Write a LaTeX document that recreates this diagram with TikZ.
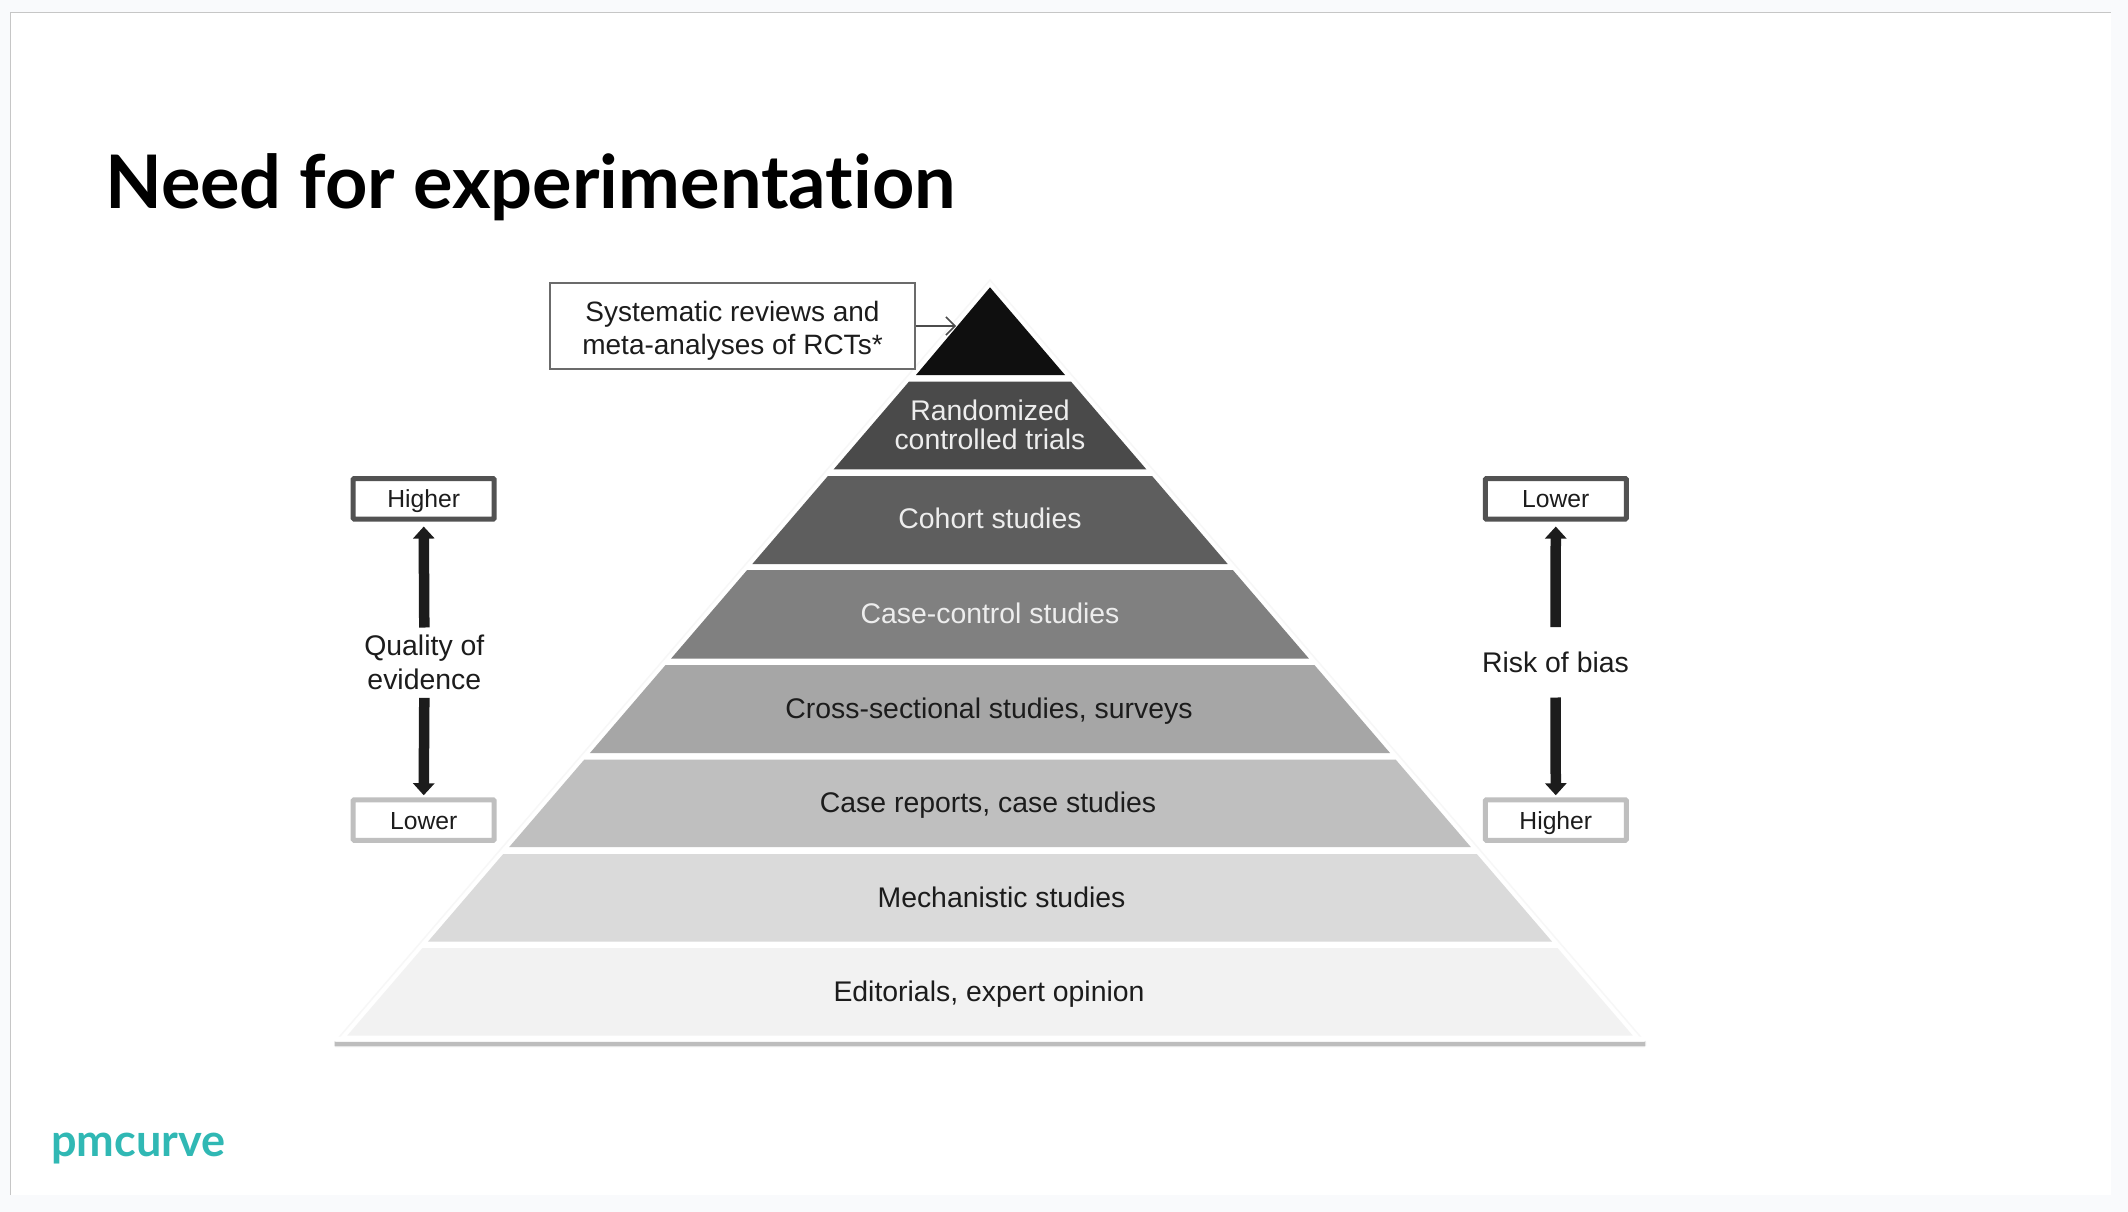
\documentclass[tikz,border=0pt]{standalone}
\usepackage{fontspec}
\setmainfont{Liberation Sans}
\newfontfamily\latofont[Ligatures=NoCommon]{Lato}
\usetikzlibrary{arrows.meta}
\definecolor{pagebg}{HTML}{F9FAFC}
\definecolor{framegray}{HTML}{C6C6C6}
\definecolor{teal}{HTML}{30B8B4}
\definecolor{inkgray}{HTML}{1C1C1C}
\newcommand{\fs}[1]{\fontsize{#1}{#1}\selectfont}
\newcommand{\fsl}[2]{\fontsize{#1}{#2}\selectfont}
\newcommand{\band}[3]{\fill[#3] ({990-0.859*(#1-287.3)},#1) -- ({990+0.859*(#1-287.3)},#1) -- ({990+0.859*(#2-287.3)},#2) -- ({990-0.859*(#2-287.3)},#2) -- cycle;}
\tikzset{
  x=1pt,y=-1pt,
  tierdark/.style={text=white!93!black,font=\fs{28.4},align=center,inner sep=0pt},
  tierlight/.style={text=inkgray,font=\fs{28.4},align=center,inner sep=0pt},
  endbox/.style={draw,fill=white,line width=5pt,rounded corners=1pt,minimum width=141pt,minimum height=40.5pt,inner sep=0pt,text=inkgray,font=\fs{24.7},text height=20.5pt,text depth=2.5pt,outer sep=2.5pt},
  hibox/.style={endbox,draw=black!68},
  lobox/.style={endbox,draw=black!25},
  midlabel/.style={minimum height=70pt,inner sep=0pt,align=center,text=inkgray,font=\fs{28.4}},
  bigarrow/.style={draw=inkgray,line width=10.5pt,-{Triangle[length=12pt,width=21pt,fill=inkgray]}},
}
\begin{document}
\begin{tikzpicture}
\useasboundingbox (0,0) rectangle (2128,1212);
\fill[pagebg] (0,0) rectangle (2128,1212);
\fill[white] (10.5,12.5) rectangle (2111,1195);
\draw[framegray,line width=1.5pt] (10.5,1195) -- (10.5,12.5) -- (2111,12.5);
% title and logo
\node[anchor=base west,inner sep=0pt,font=\latofont\bfseries\fs{73.9},text=black] (title) at (105,208.5) {Need for experimentation};
\node[anchor=base west,inner sep=0pt,font=\latofont\bfseries\fs{45},text=teal] (logo) at (51,1156) {pmcurve};
% pyramid outline and base shadow
\draw[black!3,line width=1.5pt,line join=round] (990,280) -- (335,1042) -- (1645,1042) -- cycle;
\fill[black!10,rounded corners=1.5pt] (334,1040.5) rectangle (1646,1047);
\fill[black!26] (335,1042) rectangle (1645,1045.5);
\fill[white,rounded corners=1pt] (335,1036.5) rectangle (1645,1041.5);
% tiers
\fill[black!94] (990,287.3) -- (1065,375) -- (916,375) -- cycle;
\band{381.7}{469.3}{black!71}
\band{476}{564}{black!63}
\band{570}{658.5}{black!50}
\band{665}{753}{black!35}
\band{759.5}{847}{black!25}
\band{854}{941.7}{black!14.5}
\band{948}{1035.7}{black!5}
% tier labels
\node[tierdark,font=\fsl{28.4}{29}] (rct) at (990,425) {Randomized\\controlled trials};
\node[tierdark] (cohort) at (990,518) {Cohort studies};
\node[tierdark] (cc) at (990,613) {Case-control studies};
\node[tierlight] (cross) at (989,711) {Cross-sectional studies, surveys};
\node[tierlight] (reports) at (988,805) {Case reports, case studies};
\node[tierlight] (mech) at (1001.5,897) {Mechanistic studies};
\node[tierlight] (edit) at (989,994) {Editorials, expert opinion};
% callout
\node[draw=black!58,line width=1.5pt,fill=white,minimum width=365pt,minimum height=86pt,inner sep=0pt,align=center,text=inkgray,font=\fsl{28}{33.5}] (sys) at (732.5,326) {\rule{0pt}{30pt}Systematic reviews and\\meta-analyses of RCTs*};
\coordinate (apexpoint) at (956,326);
\draw[black!70,line width=1.5pt,-{Straight Barb[length=9pt,width=18pt]}] (sys.east) -- (apexpoint);
% left scale
\node[hibox] (qh) at (423.7,498.8) {Higher};
\node[lobox] (ql) at (423.7,820) {Lower};
\node[midlabel,font=\fsl{28.4}{34}] (qual) at (424.3,662.7) {Quality of\\evidence};
\draw[bigarrow,shorten >=5pt] (qual.north) -- (qh.south);
\draw[bigarrow,shorten >=2pt] (qual.south) -- (ql.north);
% right scale
\node[hibox] (rl) at (1555.8,498.8) {Lower};
\node[lobox] (rh) at (1555.8,820) {Higher};
\node[midlabel] (risk) at (1555.5,662.3) {Risk of bias};
\draw[bigarrow,shorten >=5pt] (risk.north) -- (rl.south);
\draw[bigarrow,shorten >=2pt] (risk.south) -- (rh.north);
\end{tikzpicture}
\end{document}
